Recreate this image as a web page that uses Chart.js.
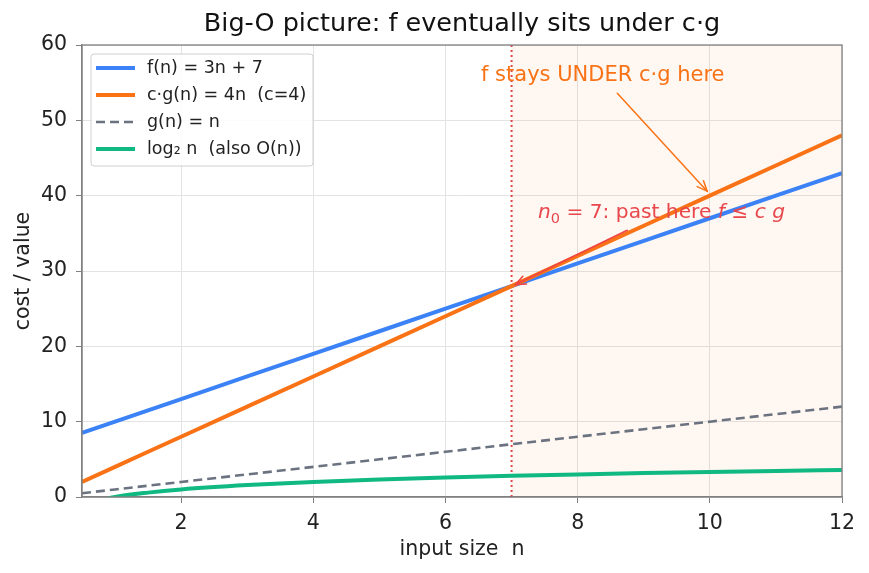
<!DOCTYPE html>
<html>
<head>
<meta charset="utf-8">
<script src="https://cdn.jsdelivr.net/npm/chart.js@4"></script>
<style>
  html, body { margin: 0; padding: 0; background: #fff; }
  #wrap { width: 869px; height: 573px; }
</style>
</head>
<body>
<div id="wrap"><canvas id="c" width="869" height="573"></canvas></div>
<script>
/* ---------- Data ---------- */
const nPoints   = [0.5, 1, 1.5, 2, 3, 4, 5, 6, 7, 8, 9, 10, 11, 12];
const fValues   = [8.5, 10, 11.5, 13, 16, 19, 22, 25, 28, 31, 34, 37, 40, 43];
const cgValues  = [2, 4, 6, 8, 12, 16, 20, 24, 28, 32, 36, 40, 44, 48];
const gValues   = [0.5, 1, 1.5, 2, 3, 4, 5, 6, 7, 8, 9, 10, 11, 12];
const logValues = [-1, 0, 0.58, 1, 1.58, 2, 2.32, 2.58, 2.81, 3, 3.17, 3.32, 3.46, 3.58];
const seriesLabels = ["f(n) = 3n + 7", "c\u00b7g(n) = 4n  (c=4)", "g(n) = n", "log\u2082 n  (also O(n))"];
const xTicks = [2, 4, 6, 8, 10, 12];
const yTicks = [0, 10, 20, 30, 40, 50, 60];
const n0 = 7;

const FONT = "'DejaVu Sans', sans-serif";
const BLUE = "#3b82f6", ORANGE = "#f97316", GRAY = "#6b7280", GREEN = "#10b981", RED = "#ef4444";

const pts = (ys) => nPoints.map((x, i) => ({ x, y: ys[i] }));

/* ---------- Helpers ---------- */
function arrow(ctx, x1, y1, x2, y2, color, w) {
  const a = Math.atan2(y2 - y1, x2 - x1), h = 11;
  ctx.save();
  ctx.strokeStyle = color; ctx.lineWidth = w; ctx.lineCap = "round";
  ctx.beginPath(); ctx.moveTo(x1, y1); ctx.lineTo(x2, y2); ctx.stroke();
  ctx.beginPath();
  ctx.moveTo(x2 - h * Math.cos(a - 0.4), y2 - h * Math.sin(a - 0.4));
  ctx.lineTo(x2, y2);
  ctx.lineTo(x2 - h * Math.cos(a + 0.4), y2 - h * Math.sin(a + 0.4));
  ctx.stroke();
  ctx.restore();
}

/* ---------- Plugin: shading, n0 line, notes, frame, legend ---------- */
const extras = {
  id: "extras",
  beforeDatasetsDraw(chart) {
    const { ctx, chartArea: a, scales: { x } } = chart;
    ctx.save();
    ctx.beginPath(); ctx.rect(a.left, a.top, a.right - a.left, a.bottom - a.top); ctx.clip();
    ctx.fillStyle = "rgba(249,115,22,0.06)";
    const px = x.getPixelForValue(n0);
    ctx.fillRect(px, a.top, x.getPixelForValue(12) - px, a.bottom - a.top);
    ctx.strokeStyle = "rgba(220,38,38,0.85)"; ctx.lineWidth = 2; ctx.setLineDash([2, 3]);
    ctx.beginPath(); ctx.moveTo(px, a.top); ctx.lineTo(px, a.bottom); ctx.stroke();
    ctx.restore();
  },
  afterDatasetsDraw(chart) {
    const { ctx, chartArea: a, scales: { x, y } } = chart;
    ctx.save();
    // orange note
    ctx.font = `21px ${FONT}`; ctx.fillStyle = ORANGE;
    ctx.textAlign = "center"; ctx.textBaseline = "middle";
    ctx.fillText("f stays UNDER c\u00b7g here", x.getPixelForValue(8.38), y.getPixelForValue(55.9));
    arrow(ctx, x.getPixelForValue(8.6), y.getPixelForValue(53.6), x.getPixelForValue(9.96), y.getPixelForValue(40.6), ORANGE, 1.5);

    // red note (math-ish)
    const tx = x.getPixelForValue(7.4), ty = y.getPixelForValue(37.7);
    const parts = [
      ["n", "italic", 0], ["0", "", 6], [" = 7: past here ", "", 0],
      ["f", "italic", 0], [" \u2264 ", "", 0], ["c", "italic", 0], [" ", "", 0], ["g", "italic", 0]
    ];
    ctx.textAlign = "left"; ctx.fillStyle = "#e8474c";
    let cx = tx;
    parts.forEach(([s, st, sub]) => {
      ctx.font = `${st} ${sub ? 14.5 : 20.2}px ${FONT}`;
      ctx.fillText(s, cx, ty + sub);
      cx += ctx.measureText(s).width;
    });
    arrow(ctx, x.getPixelForValue(8.75), y.getPixelForValue(35.4), x.getPixelForValue(7.06), y.getPixelForValue(28.2), RED, 1.6);

    // frame (top / right spines)
    ctx.strokeStyle = "#808080"; ctx.lineWidth = 1.3;
    ctx.strokeRect(a.left, a.top, a.right - a.left, a.bottom - a.top);

    // legend
    const lx = a.left + 9, ly = a.top + 9, lw = 222, lh = 112;
    ctx.fillStyle = "rgba(255,255,255,0.85)"; ctx.strokeStyle = "#d0d0d0"; ctx.lineWidth = 1;
    ctx.beginPath(); ctx.roundRect(lx, ly, lw, lh, 3); ctx.fill(); ctx.stroke();
    ctx.font = `17.5px ${FONT}`; ctx.textBaseline = "middle"; ctx.textAlign = "left";
    chart.data.datasets.forEach((ds, i) => {
      const yy = ly + 14 + i * 27;
      ctx.strokeStyle = ds.borderColor; ctx.lineWidth = ds.borderWidth;
      ctx.setLineDash(ds.borderDash || []);
      ctx.beginPath(); ctx.moveTo(lx + 5, yy); ctx.lineTo(lx + 44, yy); ctx.stroke();
      ctx.setLineDash([]);
      ctx.fillStyle = "#222";
      ctx.fillText(ds.label, lx + 56, yy);
    });
    ctx.restore();
  }
};

/* ---------- Chart ---------- */
const mk = (label, ys, color, width, order, extra = {}) => Object.assign({
  label, data: pts(ys), borderColor: color, backgroundColor: color,
  borderWidth: width, pointRadius: 0, fill: false, order
}, extra);

new Chart(document.getElementById("c"), {
  type: "line",
  data: {
    datasets: [
      mk(seriesLabels[0], fValues, BLUE, 4, 4),
      mk(seriesLabels[1], cgValues, ORANGE, 4, 3),
      mk(seriesLabels[2], gValues, GRAY, 2.6, 2, { borderDash: [9, 5] }),
      mk(seriesLabels[3], logValues, GREEN, 4, 1, { cubicInterpolationMode: "monotone" })
    ]
  },
  options: {
    responsive: false, animation: false,
    layout: { padding: { left: 7, right: 27, top: 0, bottom: 0 } },
    plugins: {
      legend: { display: false },
      tooltip: { enabled: false },
      title: {
        display: true, fullSize: false, text: "Big-O picture: f eventually sits under c\u00b7g",
        color: "#111", font: { family: FONT, size: 25.5, weight: "normal" },
        padding: { top: 9, bottom: 5.4 }
      }
    },
    scales: {
      x: {
        type: "linear", min: 0.5, max: 12,
        afterBuildTicks: (s) => { s.ticks = xTicks.map(v => ({ value: v })); },
        afterFit: (s) => { s.height = 76; },
        grid: { color: "#e3e3e3", tickColor: "#808080", tickLength: 6 },
        border: { color: "#808080", width: 1.3 },
        ticks: { color: "#222", font: { family: FONT, size: 20.5 }, padding: 8, maxRotation: 0 },
        title: { display: true, text: "input size  n", color: "#222", font: { family: FONT, size: 20.5 }, padding: { top: 4, bottom: 11 } }
      },
      y: {
        min: 0, max: 60,
        afterBuildTicks: (s) => { s.ticks = yTicks.map(v => ({ value: v })); },
        afterFit: (s) => { s.width = 75; },
        grid: { color: "#e3e3e3", tickColor: "#808080", tickLength: 6 },
        border: { color: "#808080", width: 1.3 },
        ticks: { color: "#222", font: { family: FONT, size: 20.5 }, padding: 9 },
        title: { display: true, text: "cost / value", color: "#222", font: { family: FONT, size: 20.5 }, padding: { top: 4, bottom: 4 } }
      }
    }
  },
  plugins: [extras]
});
</script>
</body>
</html>
